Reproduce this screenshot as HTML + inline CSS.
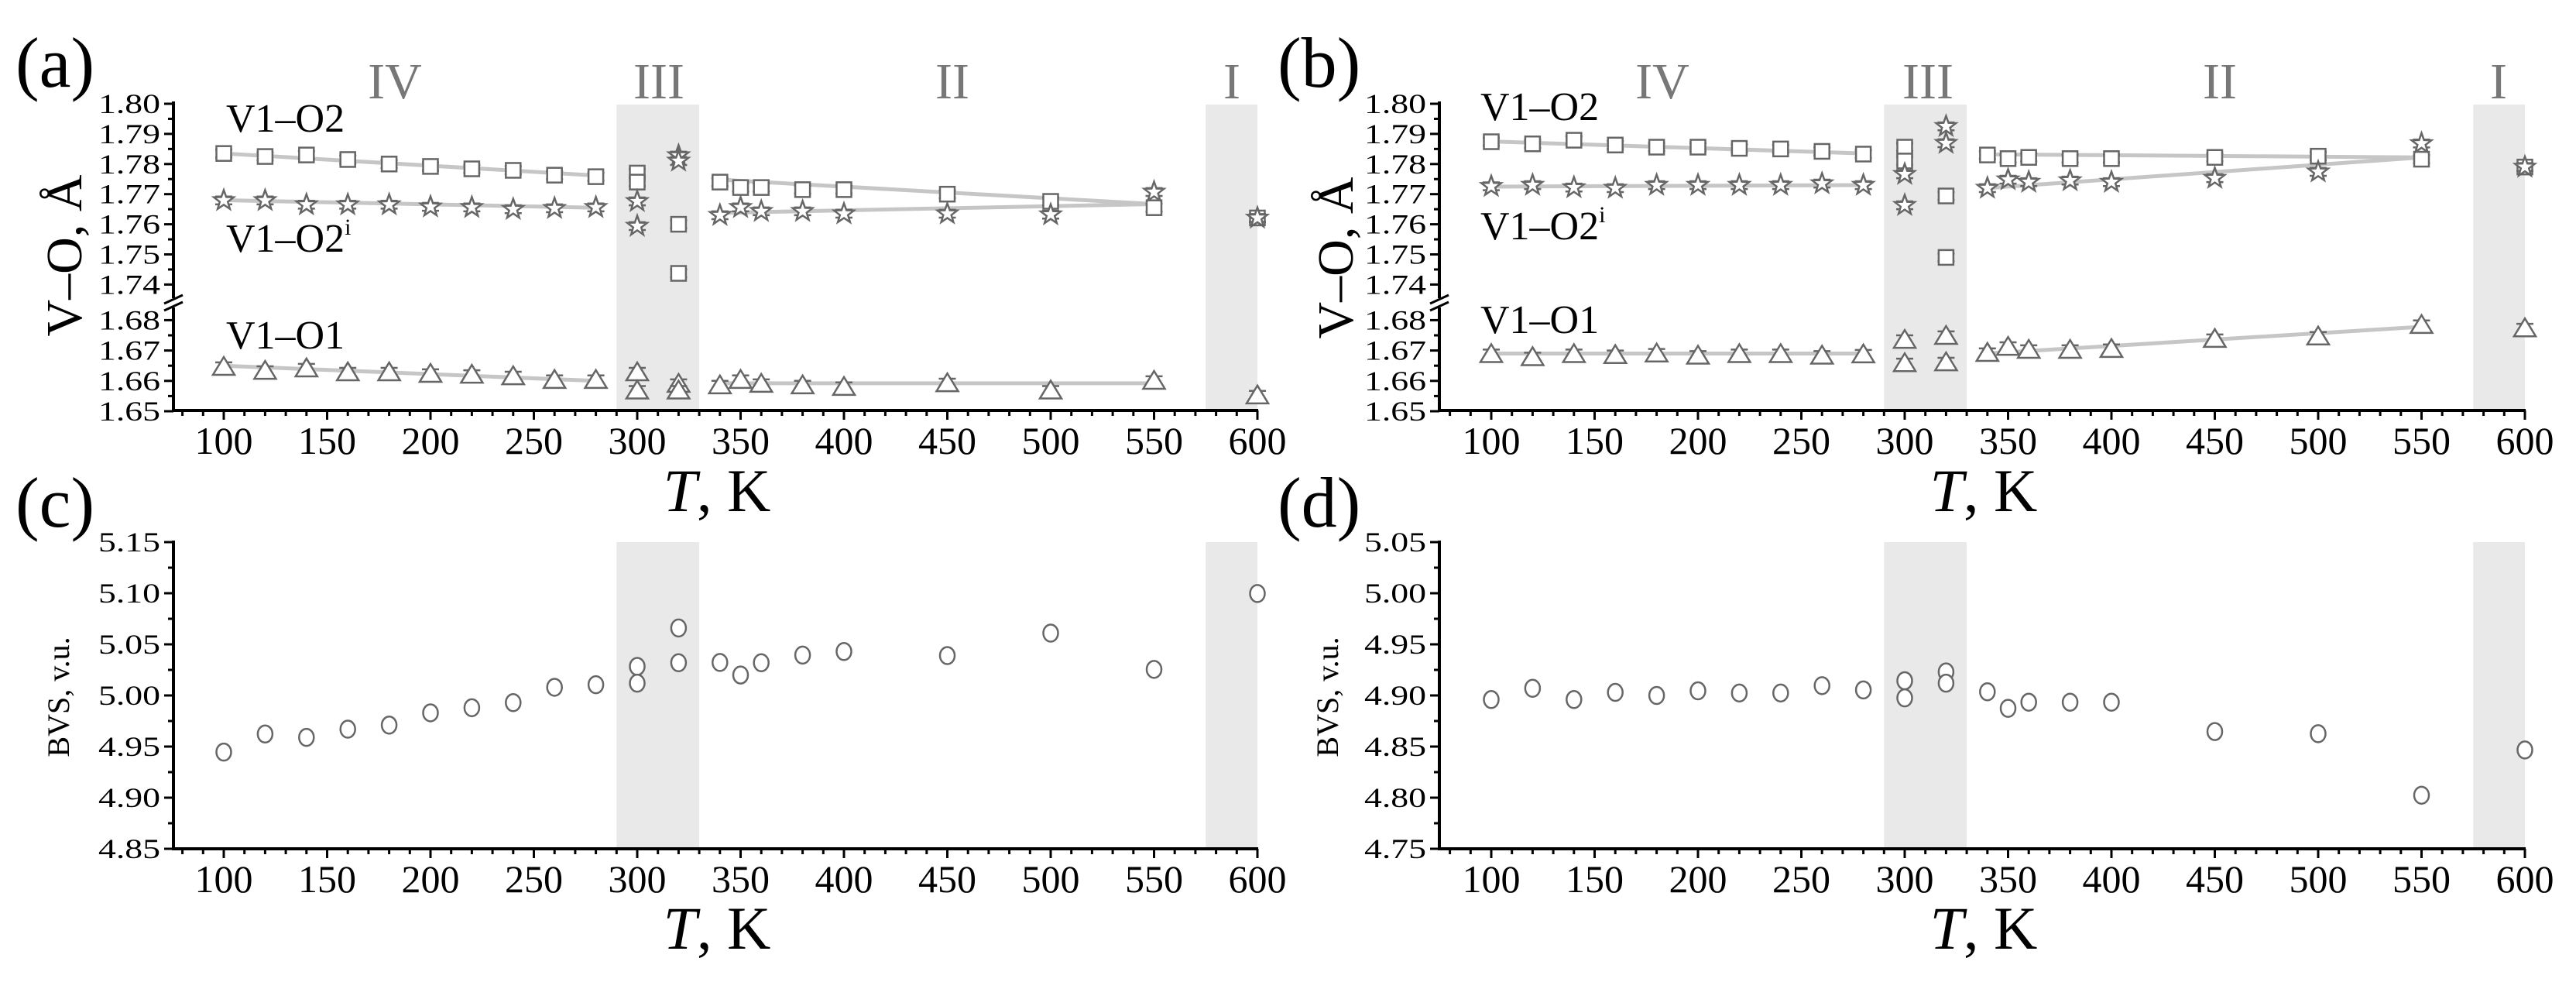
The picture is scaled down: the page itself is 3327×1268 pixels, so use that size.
<!DOCTYPE html>
<html><head><meta charset="utf-8"><style>
html,body{margin:0;padding:0;background:#fff;}
svg{display:block;font-family:"Liberation Serif",serif;}
</style></head><body>
<svg id="fig" xmlns="http://www.w3.org/2000/svg" width="3327" height="1268" viewBox="0 0 3327 1268"></svg>
<script>
// ---------- data ----------
const tRegionIII = [290, 330];
const tRegionI = [575, 600];
const xTickLabels = [100,150,200,250,300,350,400,450,500,550,600];
const voTickUpper = [1.80,1.79,1.78,1.77,1.76,1.75,1.74];
const voTickLower = [1.68,1.67,1.66,1.65];
const bvsTicksC = [5.15,5.10,5.05,5.00,4.95,4.90,4.85];
const bvsTicksD = [5.05,5.00,4.95,4.90,4.85,4.80,4.75];

const tSq = [100,120,140,160,180,200,220,240,260,280,300,300,320,320,340,350,360,380,400,450,500,550,600];
const tTr = tSq;
const tStA = [100,120,140,160,180,200,220,240,260,280,300,300,320,320,340,350,360,380,400,450,500,550,600];
const tStB = tStA;
const tBvs = [100,120,140,160,180,200,220,240,260,280,300,300,320,320,340,350,360,380,400,450,500,550,600];

const sqA = [1.7835,1.7825,1.783,1.7815,1.780,1.7792,1.7784,1.7779,1.7763,1.7758,1.777,1.774,1.760,1.7437,1.774,1.7722,1.7722,1.7715,1.7715,1.770,1.7676,1.7655,1.7621];
const stA = [1.7679,1.7679,1.7665,1.7665,1.7665,1.7658,1.7656,1.765,1.7653,1.7656,1.7676,1.7594,1.7828,1.781,1.763,1.7656,1.7643,1.7643,1.7635,1.7635,1.7632,1.7707,1.7621];
const trA = [1.6648,1.6635,1.6643,1.663,1.663,1.6625,1.6622,1.6617,1.6605,1.6605,1.663,1.657,1.6592,1.657,1.6587,1.6605,1.6592,1.6587,1.6582,1.6594,1.657,1.6602,1.6554];

const sqB = [1.7874,1.7867,1.7879,1.7863,1.7856,1.7856,1.7852,1.785,1.7842,1.7833,1.7856,1.781,1.7694,1.749,1.783,1.7818,1.7822,1.7818,1.7818,1.7822,1.7826,1.7816,1.779];
const stB = [1.7726,1.773,1.7722,1.772,1.773,1.773,1.773,1.773,1.7735,1.773,1.7766,1.7663,1.7925,1.7869,1.772,1.7748,1.774,1.7745,1.774,1.7753,1.7774,1.7868,1.779];
const trB = [1.669,1.668,1.669,1.6687,1.6692,1.6685,1.669,1.669,1.6685,1.6689,1.6737,1.666,1.675,1.6663,1.6694,1.6714,1.6704,1.6704,1.6707,1.674,1.6748,1.6786,1.6775];

const trendT = [100,280,340,550];
const trendSqA = [1.7835,1.7762,1.7748,1.7667];
const trendStA = [1.768,1.7655,1.7638,1.7667];
const trendTrA = [1.665,1.660,1.6592,1.6592];
const trendSqB = [1.7875,1.7835,1.7832,1.7822];
const trendStB = [1.7725,1.773,1.772,1.7822];
const trendTrB = [1.669,1.669,1.669,1.6778];

const bvsC = [4.9446,4.9623,4.959,4.967,4.971,4.983,4.988,4.993,5.008,5.0105,5.0284,5.012,5.066,5.032,5.0323,5.020,5.032,5.0395,5.043,5.039,5.061,5.0255,5.0997];
const bvsD = [4.896,4.907,4.896,4.903,4.900,4.9045,4.9024,4.9024,4.9096,4.9054,4.9144,4.8976,4.923,4.912,4.9036,4.8874,4.8934,4.8934,4.8934,4.8647,4.8626,4.8024,4.8467];

// ---------- helpers ----------
const NS = "http://www.w3.org/2000/svg";
const svg = document.getElementById('fig');
function mk(tag, attrs, parent, text){
  const e = document.createElementNS(NS, tag);
  for (const k in attrs) e.setAttribute(k, attrs[k]);
  if (text !== undefined) e.textContent = text;
  (parent||svg).appendChild(e);
  return e;
}
const GRAY = "#666", LINE = "#c6c6c6", SHADE = "#e9e9e9";
const ERR = 0.0013;

function makeX(x100){ return t => x100 + (t-100)*2.67; }
function yVO(v){ return v >= 1.70 ? 134 + (1.80 - v)*3890 : 531 - (v - 1.65)*3920; }
function makeYB(top){ return v => 700 + (top - v)*1320; }

function xAxis(g, X, axisLeft, yBase){
  const ax = mk('line',{x1:axisLeft,y1:yBase,x2:X(600)+1,y2:yBase,stroke:'#000','stroke-width':4},g);
   
  for (let t=80; t<=600; t+=10){
    const major = t%50===0;
    mk('line',{x1:X(t),x2:X(t),y1:yBase,y2:yBase+(major?12:7),stroke:'#000','stroke-width':3},g);
  }
  xTickLabels.forEach(t=>{
    const tx = mk('text',{x:X(t),y:yBase+56,'font-size':50,'text-anchor':'middle',fill:'#000'},g,String(t));
    
    
  });
}
function yTick(g, axisLeft, y, label, major, rightEdge){
  mk('line',{x1:axisLeft,x2:axisLeft-(major?12:7),y1:y,y2:y,stroke:'#000','stroke-width':3},g);
  if (label!==null){
    const tx = mk('text',{x:rightEdge,y:y+12,'font-size':36,'text-anchor':'end',textLength:80,lengthAdjust:'spacingAndGlyphs',fill:'#000'},g,label);
    
    
  }
}
function shade(g, X, y0, y1){
  [tRegionIII, tRegionI].forEach(r=>{
    const s = mk('rect',{x:X(r[0]),y:y0,width:X(r[1])-X(r[0]),height:y1-y0,fill:SHADE},g);
    
    
  });
}
function errBar(g, x, yHi, yLo){
  mk('line',{x1:x,x2:x,y1:yHi,y2:yLo,stroke:GRAY,'stroke-width':2},g);
  mk('line',{x1:x-11,x2:x+11,y1:yHi,y2:yHi,stroke:GRAY,'stroke-width':2.5},g);
  mk('line',{x1:x-11,x2:x+11,y1:yLo,y2:yLo,stroke:GRAY,'stroke-width':2.5},g);
}
function square(g,x,y){
  const e = mk('rect',{x:x-9.5,y:y-9.5,width:19,height:19,fill:'#fff',stroke:GRAY,'stroke-width':2.5},g);
   
}
function star(g,x,y){
  let p=[];
  for(let i=0;i<10;i++){const r=i%2?5.5:13.5;const a=-Math.PI/2+i*Math.PI/5;p.push((x+r*Math.cos(a)).toFixed(1)+','+(y+r*Math.sin(a)).toFixed(1));}
  const e = mk('polygon',{points:p.join(' '),fill:'#fff',stroke:GRAY,'stroke-width':2.5},g);
   
}
function tri(g,x,y){
  const e = mk('polygon',{points:`${x},${y-12} ${x+14},${y+11} ${x-14},${y+11}`,fill:'#fff',stroke:GRAY,'stroke-width':2.5},g);
   
}
function circ(g,x,y){
  const e = mk('ellipse',{cx:x,cy:y,rx:9.5,ry:11,fill:'#fff',stroke:GRAY,'stroke-width':2.5},g);
   
}
function trend(g,X,vals){
  for (let s=0; s<trendT.length; s+=2){
    const l = mk('line',{x1:X(trendT[s]),y1:yVO(vals[s]),x2:X(trendT[s+1]),y2:yVO(vals[s+1]),stroke:LINE,'stroke-width':5},g);
     
  }
}
function series(g,X,ts,vals,fn){
  ts.forEach((t,i)=>{
    const x=X(t), v=vals[i];
    errBar(g,x,yVO(v+ERR),yVO(v-ERR));
    fn(g,x,yVO(v));
  });
}
function label(txt,x,y,size,name,extra){
  const a = Object.assign({x:x,y:y,'font-size':size,fill:'#000'},extra||{});
  const e = mk('text',a,svg,txt);
   
  return e;
}
function romans(xs){
  ['IV','III','II','I'].forEach((r,i)=>{
    const e = mk('text',{x:xs[i],y:127,'font-size':66,'text-anchor':'middle',fill:'#777'},svg,r);
    
    
  });
}
function tTitle(cx,y){
  const e = mk('text',{x:cx,y:y,'font-size':78,'text-anchor':'middle',fill:'#000'},svg);
   
  mk('tspan',{'font-style':'italic'},e,'T');
  mk('tspan',{},e,', K');
}
function seriesLabel(x,y,sup,name){
  const e = mk('text',{x:x,y:y,'font-size':52,fill:'#000'},svg,sup?'V1–O2':(name==='label-v1-o1'?'V1–O1':'V1–O2'));
  if (sup) mk('tspan',{'font-size':30,dy:-22},e,'i');
   
}

// ---------- V–O panels ----------
function voPanel(name, x100, axisLeft, sq, st, tr, tSt, tSqv, tTrv, tSqr, tStr, tTrr){
  const g = mk('g',{});  
  const X = makeX(x100);
  shade(g,X,135,530);
  mk('line',{x1:axisLeft,y1:131,x2:axisLeft,y2:532,stroke:'#000','stroke-width':4},g);
  voTickUpper.forEach(v=>yTick(g,axisLeft,yVO(v),v.toFixed(2),true,axisLeft-17));
  for (let v=1.795; v>1.74; v-=0.01) yTick(g,axisLeft,yVO(v),null,false);
  voTickLower.forEach(v=>yTick(g,axisLeft,yVO(v),v.toFixed(2),true,axisLeft-17));
  for (let v=1.675; v>1.65; v-=0.01) yTick(g,axisLeft,yVO(v),null,false);
  // axis break
  mk('rect',{x:axisLeft-8,y:385,width:16,height:12,fill:'#fff'},g);
  mk('line',{x1:axisLeft-12,y1:392,x2:axisLeft+12,y2:381,stroke:'#000','stroke-width':3},g);
  mk('line',{x1:axisLeft-12,y1:401,x2:axisLeft+12,y2:390,stroke:'#000','stroke-width':3},g);
  xAxis(g,X,axisLeft,530);
  trend(g,X,tSqr); trend(g,X,tStr); trend(g,X,tTrr);
  series(g,X,tSqv,sq,square);
  series(g,X,tSt,st,star);
  series(g,X,tTrv,tr,tri);
}
voPanel('panel-a-vo-distances',289,224,sqA,stA,trA,tStA,tSq,tTr,trendSqA,trendStA,trendTrA);
voPanel('panel-b-vo-distances',1926,1859,sqB,stB,trB,tStB,tSq,tTr,trendSqB,trendStB,trendTrB);

// ---------- BVS panels ----------
function bvsPanel(name,x100,axisLeft,ticks,vals){
  const g = mk('g',{});  
  const X = makeX(x100), Y = makeYB(ticks[0]);
  shade(g,X,700,1096);
  mk('line',{x1:axisLeft,y1:698,x2:axisLeft,y2:1098,stroke:'#000','stroke-width':4},g);
  ticks.forEach(v=>yTick(g,axisLeft,Y(v),v.toFixed(2),true,axisLeft-17));
  for (let i=0;i<ticks.length-1;i++) yTick(g,axisLeft,Y(ticks[i]-0.025),null,false);
  xAxis(g,X,axisLeft,1096);
  tBvs.forEach((t,i)=>circ(g,X(t),Y(vals[i])));
}
bvsPanel('panel-c-bvs',289,224,bvsTicksC,bvsC);
bvsPanel('panel-d-bvs',1926,1859,bvsTicksD,bvsD);

// ---------- text ----------
label('(a)',20,112,92,'panel-label-a');
label('(b)',1650,112,92,'panel-label-b');
label('(c)',20,680,92,'panel-label-c');
label('(d)',1650,680,92,'panel-label-d');
romans([510,851,1230,1591]);
romans([2147,2490,2867,3227]);
seriesLabel(292,170,false,'label-v1-o2');
seriesLabel(292,325,true,'label-v1-o2i');
seriesLabel(292,450,false,'label-v1-o1');
seriesLabel(1912,155,false,'label-v1-o2');
seriesLabel(1912,309,true,'label-v1-o2i');
seriesLabel(1912,430,false,'label-v1-o1');
tTitle(926,660); tTitle(2562,660); tTitle(926,1225); tTitle(2562,1225);
label('V–O, Å',0,0,66,'y-axis-title',{transform:'translate(105,330) rotate(-90)','text-anchor':'middle'});
label('V–O, Å',0,0,66,'y-axis-title',{transform:'translate(1747,333) rotate(-90)','text-anchor':'middle'});
label('BVS, v.u.',0,0,40,'y-axis-title',{transform:'translate(89,900) rotate(-90)','text-anchor':'middle'});
label('BVS, v.u.',0,0,40,'y-axis-title',{transform:'translate(1728,900) rotate(-90)','text-anchor':'middle'});
</script>
</body></html>
